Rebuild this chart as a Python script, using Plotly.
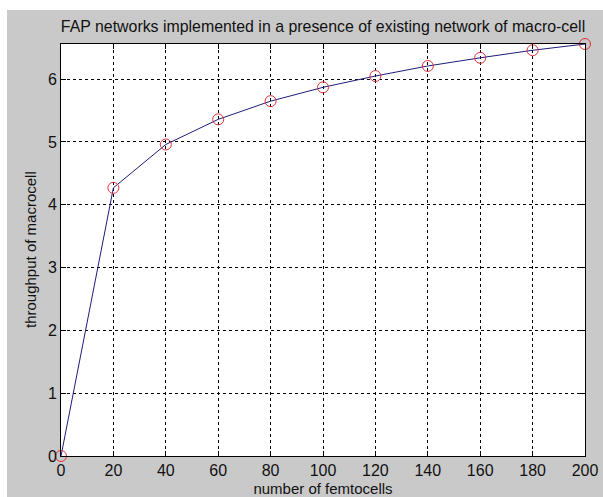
import plotly.graph_objects as go

femtocells = [0, 20, 40, 60, 80, 100, 120, 140, 160, 180, 200]
throughput = [0.0, 4.27, 4.96, 5.36, 5.65, 5.87, 6.05, 6.21, 6.34, 6.46, 6.56]
x_ticks = [0, 20, 40, 60, 80, 100, 120, 140, 160, 180, 200]
y_ticks = [0, 1, 2, 3, 4, 5, 6]

# figure placed at (7, 10) in the page via body margin
W, H = 596, 487
L, R, T, B = 54, 18, 34, 41
pw, ph = W - L - R, H - T - B

fig = go.Figure()
fig.add_trace(go.Scatter(
    x=femtocells, y=throughput, mode="lines+markers",
    line=dict(color="#1c1c7a", width=1),
    marker=dict(symbol="circle-open", size=11, color="#e0303a", line=dict(width=1, color="#e0303a")),
    cliponaxis=False, showlegend=False,
))

font = "Liberation Sans, Arial, sans-serif"
axis_common = dict(
    showline=True, linecolor="black", linewidth=1, mirror="ticks",
    ticks="inside", ticklen=5, tickcolor="black",
    showgrid=True, gridcolor="black", gridwidth=1, griddash="3px,3px",
    zeroline=False, automargin=False,
    tickfont=dict(family=font, size=16, color="#111111"),
)

fig.update_layout(
    width=W, height=H,
    margin=dict(l=L, r=R, t=T, b=B),
    paper_bgcolor="#c9c9c9", plot_bgcolor="white",
    title=dict(text="FAP networks implemented in a presence of existing network of macro-cell",
               x=(L + pw / 2) / W, xanchor="center", y=1 - 16 / H, yanchor="middle",
               font=dict(family=font, size=15.9, color="#111111")),
    xaxis=dict(range=[0, 200], tickvals=x_ticks, ticktext=[str(v) for v in x_ticks],
               title=dict(text="number of femtocells", font=dict(family=font, size=15, color="#111111")),
               **axis_common),
    yaxis=dict(range=[0, 6.56], tickvals=y_ticks, ticktext=[str(v) for v in y_ticks],
               **axis_common),
    annotations=[dict(
        text="throughput of macrocell", textangle=-90,
        xref="paper", yref="paper", x=0, y=0.5, xanchor="center", yanchor="middle",
        xshift=-31, showarrow=False,
        font=dict(family=font, size=15, color="#111111"),
    )],
)

fig.write_html(
    "out.html",
    post_script="document.body.style.margin='10px 0 0 7px';document.body.style.overflow='hidden';",
)
